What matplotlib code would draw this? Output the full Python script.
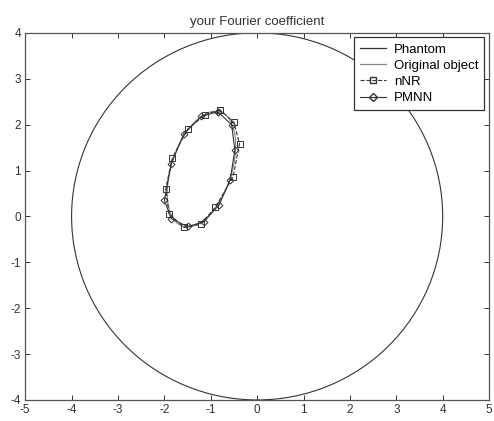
import matplotlib
matplotlib.use("Agg")
import matplotlib.pyplot as plt
from matplotlib.patches import Circle, Ellipse
from matplotlib.lines import Line2D

# Phantom: circle
phantom_center = (0.0, 0.0)
phantom_radius = 4.0

# Original object: ellipse
obj_center = (-1.2, 1.03)
obj_width = 2.62   # major axis length
obj_height = 1.30  # minor axis length
obj_angle = 72.0

# nNR reconstruction points
nnr_x = [-0.80, -1.12, -1.50, -1.83, -1.97, -1.90, -1.58, -1.22, -0.90, -0.52, -0.38, -0.50, -0.80]
nnr_y = [2.32, 2.22, 1.90, 1.27, 0.60, 0.06, -0.24, -0.17, 0.20, 0.86, 1.58, 2.05, 2.32]

# PMNN reconstruction points
pmnn_x = [-0.85, -1.20, -1.58, -1.85, -2.00, -1.85, -1.50, -1.15, -0.82, -0.58, -0.48, -0.55, -0.85]
pmnn_y = [2.28, 2.18, 1.80, 1.15, 0.35, -0.05, -0.22, -0.12, 0.25, 0.80, 1.45, 2.00, 2.28]

xticks = list(range(-5, 6))
yticks = list(range(-4, 5))

plt.rcParams['font.family'] = ['Liberation Sans', 'DejaVu Sans']
plt.rcParams['axes.unicode_minus'] = False

fig = plt.figure(figsize=(4.94, 4.21), dpi=100)
ax = fig.add_axes([0.051, 0.05, 0.939, 0.872])

ax.add_patch(Circle(phantom_center, phantom_radius, fill=False, edgecolor='#333333', lw=0.8))
ax.add_patch(Ellipse(obj_center, obj_width, obj_height, angle=obj_angle, fill=False,
                     edgecolor='#888888', lw=0.8))
ax.plot(nnr_x, nnr_y, ls='--', color='#333333', lw=0.8, marker='s', ms=4,
        mfc='none', mec='#333333', mew=0.7)
ax.plot(pmnn_x, pmnn_y, ls='-', color='#333333', lw=0.8, marker='D', ms=3.5,
        mfc='none', mec='#333333', mew=0.7)

handles = [
    Line2D([], [], color='#333333', lw=0.9),
    Line2D([], [], color='#888888', lw=0.9),
    Line2D([], [], color='#333333', lw=0.8, ls='--', marker='s', ms=5, mfc='none'),
    Line2D([], [], color='#333333', lw=0.8, marker='D', ms=4.5, mfc='none'),
]
leg = ax.legend(handles, ['Phantom', 'Original object', 'nNR', 'PMNN'], loc='upper right',
                fontsize=9.5, fancybox=False, framealpha=1, edgecolor='#333333',
                borderaxespad=0.35, handlelength=2.0, labelspacing=0.3, borderpad=0.45,
                handletextpad=0.6)
leg.get_frame().set_linewidth(0.9)

ax.set_xlim(-5, 5)
ax.set_ylim(-4, 4)
ax.set_xticks(xticks)
ax.set_yticks(yticks)
ax.tick_params(direction='in', top=True, right=True, labelsize=8.5, length=3.5, width=0.7,
               pad=3, colors='#333333')
for s in ax.spines.values():
    s.set_linewidth(0.9)
    s.set_color('#555555')
ax.set_title('your Fourier coefficient', fontsize=9.5, pad=6, color='#333333')

fig.savefig('out.png', dpi=100)
